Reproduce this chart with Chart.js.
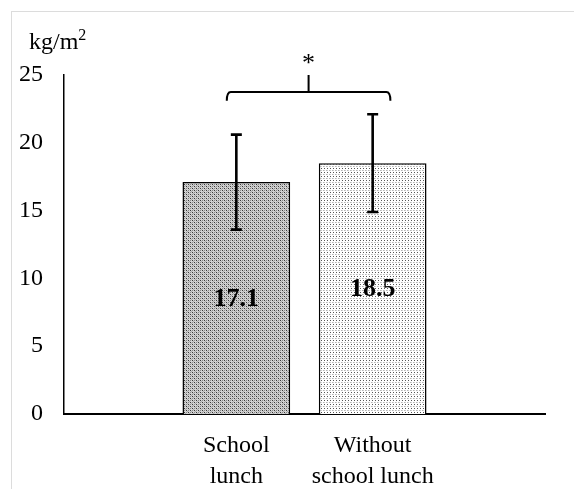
<!DOCTYPE html>
<html>
<head>
<meta charset="utf-8">
<script src="https://cdn.jsdelivr.net/npm/chart.js@4/dist/chart.umd.min.js"></script>
<style>
  html, body { margin: 0; padding: 0; background: #fff; }
  #wrap { width: 574px; height: 489px; position: relative; }
</style>
</head>
<body>
<div id="wrap"><canvas id="c" width="574" height="489"></canvas></div>
<script>
// ---- data ----
const categories = [["School", "lunch"], ["Without", "school lunch"]];
const means = [17.1, 18.5];
const sds = [3.5, 3.6];
const valueLabels = ["17.1", "18.5"];
const yTicks = [0, 5, 10, 15, 20, 25];
const unitLabel = "kg/m";
const unitSup = "2";
const sigMark = "*";
const sigFrom = 0.93, sigTo = 2.13, sigY = 23.75, sigDrop = 0.65, sigRise = 1.25, sigTextY = 26.2;

// ---- patterns ----
function makePattern(bg, dots, w, h) {
  const pc = document.createElement('canvas');
  pc.width = w; pc.height = h;
  const p = pc.getContext('2d');
  p.fillStyle = bg; p.fillRect(0, 0, w, h);
  dots.forEach(d => { p.fillStyle = d[2]; p.fillRect(d[0], d[1], 1, 1); });
  return document.getElementById('c').getContext('2d').createPattern(pc, 'repeat');
}
const darkPat = makePattern('#d2d2d2', [[0,0,'#3a3a3a'],[2,2,'#3a3a3a'],[2,0,'#8a8a8a'],[0,2,'#8a8a8a'],[1,1,'#ababab'],[3,3,'#ababab']], 4, 4);
const lightPat = makePattern('#ffffff', [[0,0,'#555555'],[2,2,'#b5b5b5'],[0,2,'#d0d0d0']], 3, 4);

const FONT = "'Liberation Serif', 'Times New Roman', serif";

const overlay = {
  id: 'overlay',
  beforeDraw(chart) {
    const ctx = chart.ctx;
    ctx.save();
    ctx.strokeStyle = '#dcdcdc';
    ctx.lineWidth = 1;
    ctx.strokeRect(11.5, 11.5, 700, 700);
    ctx.restore();
  },
  afterDatasetsDraw(chart) {
    const ctx = chart.ctx;
    const xs = chart.scales.x, ys = chart.scales.y;
    ctx.save();
    // value labels
    ctx.fillStyle = '#000';
    ctx.font = "bold 26px " + FONT;
    ctx.textAlign = 'center';
    ctx.textBaseline = 'middle';
    means.forEach((m, i) => {
      const x = xs.getPixelForValue(i + 1);
      const y = (ys.getPixelForValue(m) + ys.getPixelForValue(0)) / 2;
      ctx.fillText(valueLabels[i], x, y + 1);
    });
    // error bars
    ctx.strokeStyle = '#000';
    ctx.lineWidth = 2.6;
    means.forEach((m, i) => {
      const x = xs.getPixelForValue(i + 1);
      const yt = ys.getPixelForValue(m + sds[i]);
      const yb = ys.getPixelForValue(m - sds[i]);
      ctx.beginPath();
      ctx.moveTo(x, yt); ctx.lineTo(x, yb);
      ctx.moveTo(x - 5.5, yt); ctx.lineTo(x + 5.5, yt);
      ctx.moveTo(x - 5.5, yb); ctx.lineTo(x + 5.5, yb);
      ctx.stroke();
    });
    // significance bracket
    const bx1 = xs.getPixelForValue(sigFrom), bx2 = xs.getPixelForValue(sigTo);
    const by = ys.getPixelForValue(sigY);
    const byd = ys.getPixelForValue(sigY - sigDrop);
    const byu = ys.getPixelForValue(sigY + sigRise);
    const bc = (bx1 + bx2) / 2;
    ctx.lineWidth = 2;
    ctx.lineJoin = 'round';
    ctx.beginPath();
    ctx.moveTo(bx1, byd);
    ctx.quadraticCurveTo(bx1, by, bx1 + 4, by);
    ctx.lineTo(bx2 - 4, by);
    ctx.quadraticCurveTo(bx2, by, bx2, byd);
    ctx.moveTo(bc, by); ctx.lineTo(bc, byu);
    ctx.stroke();
    ctx.font = "26px " + FONT;
    ctx.fillText(sigMark, bc, ys.getPixelForValue(sigTextY) + 5);
    // unit label
    ctx.textAlign = 'left';
    ctx.textBaseline = 'alphabetic';
    ctx.font = "24px " + FONT;
    ctx.fillText(unitLabel, 29, 49);
    const w = ctx.measureText(unitLabel).width;
    ctx.font = "16px " + FONT;
    ctx.fillText(unitSup, 29 + w, 40);
    ctx.restore();
  }
};

new Chart(document.getElementById('c'), {
  type: 'bar',
  data: {
    datasets: [{
      data: means.map((m, i) => ({ x: i + 1, y: m })),
      backgroundColor: [darkPat, lightPat],
      borderColor: '#000',
      borderWidth: 1.5,
      barPercentage: 0.79,
      categoryPercentage: 1
    }]
  },
  options: {
    responsive: false,
    animation: false,
    devicePixelRatio: 1,
    layout: { padding: { top: 75, right: 29, bottom: 0, left: 0 } },
    plugins: { legend: { display: false }, tooltip: { enabled: false } },
    scales: {
      x: {
        type: 'linear',
        min: -0.264,
        max: 3.264,
        offset: false,
        grid: { display: false, drawTicks: false },
        border: { display: true, color: '#000', width: 2 },
        afterBuildTicks: s => { s.ticks = categories.map((c, i) => ({ value: i + 1 })); },
        afterFit: s => { s.height = 75; },
        ticks: {
          autoSkip: false,
          maxRotation: 0,
          padding: 16,
          color: '#000',
          font: { family: FONT, size: 24, lineHeight: 1.3 },
          callback: v => categories[v - 1]
        }
      },
      y: {
        min: 0,
        max: 25,
        grid: { display: false, drawTicks: false },
        border: { display: true, color: '#000', width: 1.5 },
        afterBuildTicks: s => { s.ticks = yTicks.map(v => ({ value: v })); },
        afterFit: s => { s.width = 64; },
        ticks: {
          padding: 21,
          color: '#000',
          font: { family: FONT, size: 24 }
        }
      }
    }
  },
  plugins: [overlay]
});
</script>
</body>
</html>
